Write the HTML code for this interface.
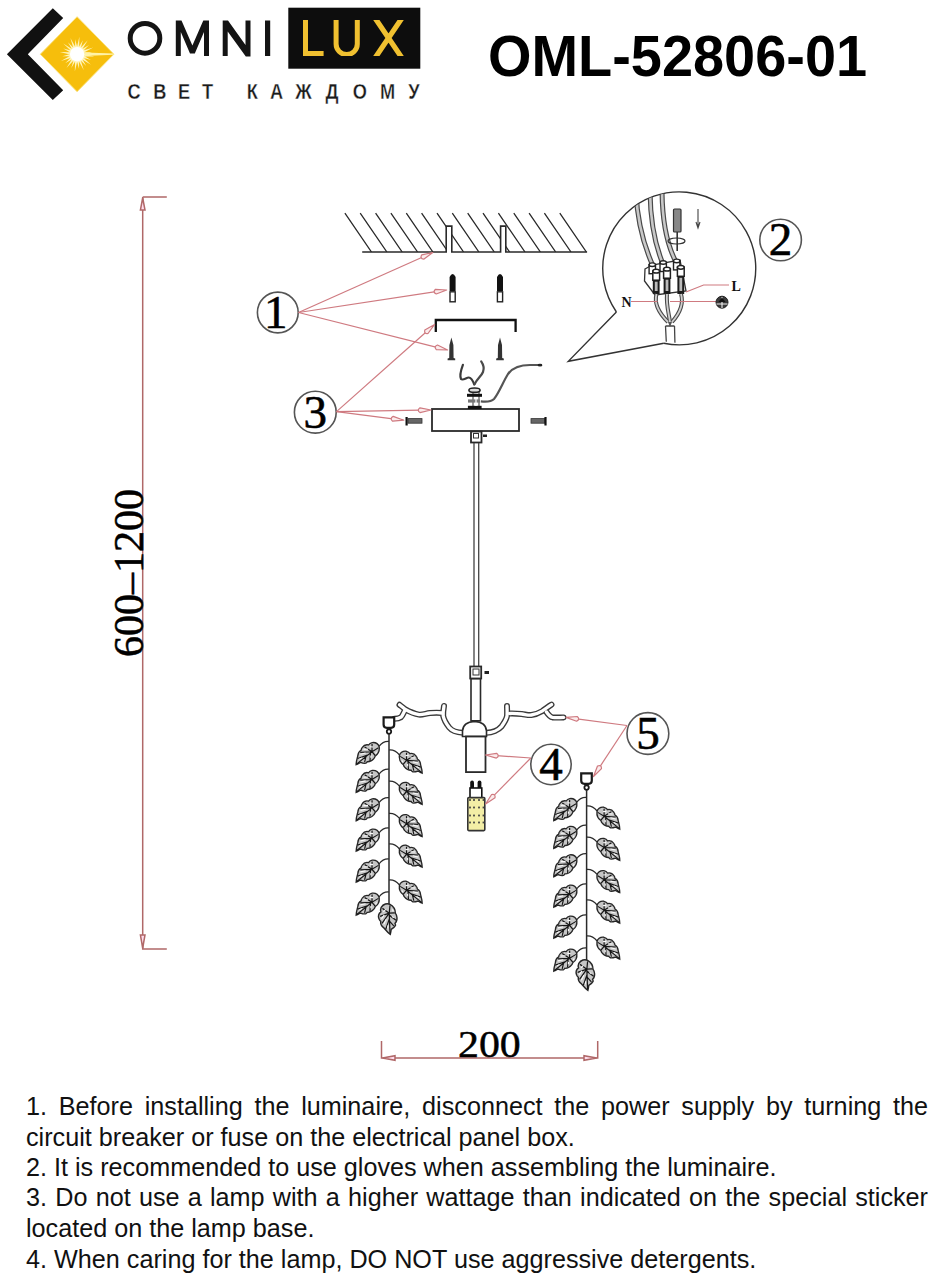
<!DOCTYPE html>
<html><head><meta charset="utf-8">
<style>
html,body{margin:0;padding:0;background:#fff;}
body{width:936px;height:1280px;position:relative;overflow:hidden;font-family:"Liberation Sans",sans-serif;}
#title{position:absolute;left:488px;top:22px;font-size:58px;font-weight:bold;color:#000;white-space:nowrap;transform:scaleX(0.964);transform-origin:0 0;}
.ln{position:absolute;left:26px;width:902px;font-size:25.2px;line-height:30px;color:#111;white-space:nowrap;}
.j{text-align:justify;text-align-last:justify;white-space:normal;}
svg{position:absolute;left:0;top:0;}
</style></head>
<body>
<svg width="936" height="1280" viewBox="0 0 936 1280">
<defs><g id="leaf">
<path d="M0,0 C-3,-1.5 -7,-0.5 -9.3,3 C-10.2,5 -10,6.5 -9.6,7.5 C-11.8,9 -12.6,12 -11.6,14.5 C-11.2,15.8 -10.5,16.5 -9.8,17 C-10.2,19.5 -8.5,22 -6.8,23.2 C-5,25 -3,28 0.3,30 C0.8,28 1,26.5 1.3,25 C3,24 5,22.5 5.8,21 C5.9,20 5.6,19.5 5.3,19 C7.2,17 7.8,14 7,11.5 C6.7,10.3 6.2,9.6 5.7,9 C5.7,6 4,2 0,0 Z" fill="#c6c6c6" stroke="#262626" stroke-width="1.5"/>
<path d="M0,1 L-0.8,8.8 L0,29 M-0.8,8.8 L-8,4 M-0.8,8.8 L-10.5,12 M-0.8,8.8 L-8.5,19 M-0.5,14 L-4.5,25 M-0.8,8.8 L5,8.5 M-0.5,11 L6.3,16 M-0.3,17 L4,21.5" stroke="#161616" stroke-width="1.3" fill="none"/>
<path d="M-4.5,5 L-7,7.5 M-6,10.5 L-9,14.5 M-4,15 L-6.5,20 M2,12 L4,13.5 M-2,21 L-2.5,24 M2.5,5 L3.5,7" stroke="#fafafa" stroke-width="1.2" fill="none"/>
</g></defs>
<polygon points="52.8,8.3 63.2,18 27.8,54.2 63.2,90.3 52.8,100 6.9,54.2" fill="#111"/>
<polygon points="77.1,16.7 113.9,54.2 77.1,91.7 40.3,54.2" fill="#F6BE0C" stroke="#fbe27a" stroke-width="0.9"/>
<path d="M83.08,53.73 L94.45,56.48 L82.75,56.21Z M83.00,55.29 L90.96,59.94 L82.04,57.60Z M82.52,56.78 L90.98,64.85 L80.99,58.76Z M81.66,58.09 L86.23,66.10 L79.68,59.62Z M80.50,59.14 L83.80,70.37 L78.19,60.10Z M79.11,59.85 L79.06,69.07 L76.63,60.18Z M77.57,60.18 L74.82,71.55 L75.09,59.85Z M76.01,60.10 L71.36,68.06 L73.70,59.14Z M74.52,59.62 L66.45,68.08 L72.54,58.09Z M73.21,58.76 L65.20,63.33 L71.68,56.78Z M72.16,57.60 L60.93,60.90 L71.20,55.29Z M71.45,56.21 L62.23,56.16 L71.12,53.73Z M71.12,54.67 L59.75,51.92 L71.45,52.19Z M71.20,53.11 L63.24,48.46 L72.16,50.80Z M71.68,51.62 L63.22,43.55 L73.21,49.64Z M72.54,50.31 L67.97,42.30 L74.52,48.78Z M73.70,49.26 L70.40,38.03 L76.01,48.30Z M75.09,48.55 L75.14,39.33 L77.57,48.22Z M76.63,48.22 L79.38,36.85 L79.11,48.55Z M78.19,48.30 L82.84,40.34 L80.50,49.26Z M79.68,48.78 L87.75,40.32 L81.66,50.31Z M80.99,49.64 L89.00,45.07 L82.52,51.62Z M82.04,50.80 L93.27,47.50 L83.00,53.11Z M82.75,52.19 L91.97,52.24 L83.08,54.67Z" fill="#fff4b8"/>
<path d="M78,52.2 L113.5,53.6 L113.5,54.8 L78,56.2 Z" fill="#fff3a8"/>
<circle cx="77.1" cy="54.2" r="7.2" fill="#fff"/>
<g fill="#141414"><path d="M175.8,56 L175.8,20.5 L181.5,20.5 L192.4,45.5 L203.3,20.5 L209,20.5 L209,56 L204,56 L204,32 L194.8,53.5 L190,53.5 L180.8,32 L180.8,56 Z"/><path d="M222.7,56 L222.7,20.5 L228,20.5 L245.5,45 L245.5,20.5 L250.5,20.5 L250.5,56.5 L245.8,56.5 L227.7,31.5 L227.7,56 Z"/><rect x="265" y="20.5" width="5.2" height="35.5"/></g>
<ellipse cx="145" cy="38.3" rx="14.8" ry="14.9" fill="none" stroke="#141414" stroke-width="5"/>
<rect x="288.3" y="7.7" width="132" height="61" fill="#0d0d0d"/>
<clipPath id="luxclip"><rect x="290" y="20" width="125" height="36"/></clipPath>
<g fill="none" stroke="#F0C030" stroke-width="5" clip-path="url(#luxclip)"><path d="M305.5,18 L305.5,53.4 L323.6,53.4"/><path d="M336.1,18 L336.1,44 A10.6,10.6 0 0 0 357.3,44 L357.3,18"/><path d="M375,18 L402,58 M402,18 L375,58" stroke-width="5.2"/></g>
<text transform="translate(134.2,98.7) scale(0.86,1)" text-anchor="middle" font-family="Liberation Sans" font-weight="bold" font-size="21.2" fill="#1a1a1a" stroke="#fff" stroke-width="0.35">С</text>
<text transform="translate(159.8,98.7) scale(0.86,1)" text-anchor="middle" font-family="Liberation Sans" font-weight="bold" font-size="21.2" fill="#1a1a1a" stroke="#fff" stroke-width="0.35">В</text>
<text transform="translate(184,98.7) scale(0.86,1)" text-anchor="middle" font-family="Liberation Sans" font-weight="bold" font-size="21.2" fill="#1a1a1a" stroke="#fff" stroke-width="0.35">Е</text>
<text transform="translate(207.6,98.7) scale(0.86,1)" text-anchor="middle" font-family="Liberation Sans" font-weight="bold" font-size="21.2" fill="#1a1a1a" stroke="#fff" stroke-width="0.35">Т</text>
<text transform="translate(252.4,98.7) scale(0.86,1)" text-anchor="middle" font-family="Liberation Sans" font-weight="bold" font-size="21.2" fill="#1a1a1a" stroke="#fff" stroke-width="0.35">К</text>
<text transform="translate(276.5,98.7) scale(0.86,1)" text-anchor="middle" font-family="Liberation Sans" font-weight="bold" font-size="21.2" fill="#1a1a1a" stroke="#fff" stroke-width="0.35">А</text>
<text transform="translate(303.6,98.7) scale(0.86,1)" text-anchor="middle" font-family="Liberation Sans" font-weight="bold" font-size="21.2" fill="#1a1a1a" stroke="#fff" stroke-width="0.35">Ж</text>
<text transform="translate(332,98.7) scale(0.86,1)" text-anchor="middle" font-family="Liberation Sans" font-weight="bold" font-size="21.2" fill="#1a1a1a" stroke="#fff" stroke-width="0.35">Д</text>
<text transform="translate(359.8,98.7) scale(0.86,1)" text-anchor="middle" font-family="Liberation Sans" font-weight="bold" font-size="21.2" fill="#1a1a1a" stroke="#fff" stroke-width="0.35">О</text>
<text transform="translate(387.5,98.7) scale(0.86,1)" text-anchor="middle" font-family="Liberation Sans" font-weight="bold" font-size="21.2" fill="#1a1a1a" stroke="#fff" stroke-width="0.35">М</text>
<text transform="translate(413.8,98.7) scale(0.86,1)" text-anchor="middle" font-family="Liberation Sans" font-weight="bold" font-size="21.2" fill="#1a1a1a" stroke="#fff" stroke-width="0.35">У</text>
<g stroke="#b06868" stroke-width="1.5" fill="none"><path d="M142.7,197 L166.8,197 M142.7,197 L142.7,949 L166.8,949"/><path d="M142.7,198 L145,210 L140.4,210 Z" fill="#fde"/><path d="M142.7,948 L145,935 L140.4,935 Z" fill="#fde"/><path d="M381.5,1041 L381.5,1058 L597.7,1058 L597.7,1041"/><path d="M382.5,1058 L395,1055.7 L395,1060.3 Z" fill="#fde"/><path d="M596.7,1058 L584,1055.7 L584,1060.3 Z" fill="#fde"/></g>
<text transform="translate(143,657) rotate(-90) scale(1,1)" font-family="Liberation Serif" font-size="42" fill="#000" stroke="#000" stroke-width="0.5">600–1200</text>
<text transform="translate(458,1057.4) scale(1.1,1)" font-family="Liberation Serif" font-size="38" fill="#000" stroke="#000" stroke-width="0.5">200</text>
<clipPath id="ceilclip"><path d="M330,200 L600,200 L600,252 L506,252 L506,226 L500.6,226 L500.6,252 L451.8,252 L451.8,226 L446.2,226 L446.2,252 L330,252 Z"/></clipPath>
<path d="M344.9,213.2 L371.5,252 M360.2,213.2 L386.9,252 M375.6,213.2 L402.2,252 M390.9,213.2 L417.6,252 M406.3,213.2 L432.9,252 M421.6,213.2 L448.2,252 M437.0,213.2 L463.6,252 M452.3,213.2 L478.9,252 M467.7,213.2 L494.3,252 M483.0,213.2 L509.6,252 M498.4,213.2 L525.0,252 M513.8,213.2 L540.4,252 M529.1,213.2 L555.7,252 M544.4,213.2 L571.0,252 M559.8,213.2 L586.4,252" stroke="#2a2a2a" stroke-width="1.3" clip-path="url(#ceilclip)"/>
<path d="M362.2,252 L446.2,252 L446.2,226.1 L451.8,226.1 L451.8,252 L500.6,252 L500.6,226.1 L505.8,226.1 L505.8,252 L587.1,252" fill="none" stroke="#2a2a2a" stroke-width="1.6"/>
<path d="M449.6,291 L449.6,277 Q452.6,271 455.6,277 L455.6,291 Z" fill="#111"/>
<rect x="450.0" y="291.8" width="5.2" height="10" fill="#fff" stroke="#222" stroke-width="1.4"/>
<path d="M497,291 L497,277 Q500,271 503,277 L503,291 Z" fill="#111"/>
<rect x="497.4" y="291.8" width="5.2" height="10" fill="#fff" stroke="#222" stroke-width="1.4"/>
<path d="M435.8,332 L435.8,320 L515.6,320 L515.6,332" fill="none" stroke="#111" stroke-width="2.3"/>
<path d="M451.4,337.5 L453.4,345 L453.59999999999997,358 L455.2,358.5 L455.2,360.3 L447.59999999999997,360.3 L447.59999999999997,358.5 L449.2,358 L449.4,345 Z" fill="#333"/>
<path d="M500,337.5 L502,345 L502.2,358 L503.8,358.5 L503.8,360.3 L496.2,360.3 L496.2,358.5 L497.8,358 L498,345 Z" fill="#333"/>
<rect x="432" y="409" width="87" height="22" fill="#fff" stroke="#2a2a2a" stroke-width="1.8"/>
<rect x="473" y="390" width="6" height="17" fill="#fff" stroke="#333" stroke-width="1"/>
<rect x="467.9" y="405.8" width="13.7" height="3.2" fill="#111"/>
<rect x="467" y="393.8" width="15" height="3" fill="#111"/>
<rect x="468" y="399.4" width="12" height="3.2" fill="#777"/><line x1="476" y1="397" x2="476" y2="406" stroke="#fff" stroke-width="1.2"/>
<ellipse cx="474.5" cy="390.2" rx="5.6" ry="2.2" fill="#ddd" stroke="#222" stroke-width="1.6"/>
<path d="M462.9,364.9 C461,370 459.5,376 461,379 C463,381 467,377 469,377.5 C471.5,378 473,381 474.3,384.5" fill="none" stroke="#3a3a3a" stroke-width="2.2" stroke-linecap="round"/>
<path d="M481.2,361.4 C483,364 484.5,368 483,372 C481.5,376 477,379 474.7,384" fill="none" stroke="#4a4a4a" stroke-width="2.2" stroke-linecap="round"/>
<path d="M480.8,401.4 C486,402 491,402 494,399 C499,393 503,382 508,374 C513,367 520,365 530,365 L539.5,365" fill="none" stroke="#555" stroke-width="2.2"/>
<ellipse cx="540" cy="365.2" rx="2.4" ry="1.4" fill="#222"/>
<rect x="408" y="418.6" width="14" height="4.6" fill="#666" stroke="#333" stroke-width="0.8"/><path d="M406.6,417 L406.6,425.5" stroke="#111" stroke-width="2.2"/>
<rect x="531" y="418.6" width="14" height="4.6" fill="#666" stroke="#333" stroke-width="0.8"/><path d="M545.5,417 L545.5,425.5" stroke="#111" stroke-width="2.2"/>
<rect x="471" y="431.5" width="10.5" height="11" fill="#fff" stroke="#2a2a2a" stroke-width="1.8"/>
<rect x="473.5" y="433.5" width="5" height="4.5" fill="#fff" stroke="#333" stroke-width="1"/>
<rect x="483" y="434.5" width="4" height="2.5" fill="#222"/>
<path d="M474,443 L474,666 M478.7,443 L478.7,666" stroke="#444" stroke-width="1.3"/>
<rect x="470.2" y="666.5" width="11" height="12" fill="#fff" stroke="#2a2a2a" stroke-width="1.8"/>
<rect x="473" y="669" width="6" height="6" fill="#fff" stroke="#333" stroke-width="1"/>
<rect x="484.5" y="671" width="4.5" height="3" fill="#222"/>
<rect x="471" y="678.8" width="9.5" height="42" fill="#fff" stroke="#2a2a2a" stroke-width="1.6"/>
<path d="M463,732.8 C459,732.6 452,731 449.2,727.5 C446.5,724 444,720 443.2,716 C443,712 443.5,709 444,706 M442,713 C438,712.4 434,712.6 430,713 C425,713.8 422,715 419,714.6 C414,713.8 410,712 405,709.2 C403,707.5 401,706 399.5,704.8 M405,710.2 C403.5,713 402.5,716 401,717.2 C399,718.6 397,718.8 394.5,718.8" fill="none" stroke="#3a3a3a" stroke-width="6" stroke-linecap="round" stroke-linejoin="round"/>
<path d="M486.5,732.8 C492,732.6 498.5,730 501.5,726.5 C504,723 506.5,719 507,716 C507.3,712 507,709 507,706 M510,713.5 C514,713.4 518,713.6 521.7,714 C526,714.6 529,715.4 531.3,715 C536,714.4 539,713 542,711.2 C546,708.5 549,706 551.5,704.6 M546.5,712 C548.5,715 550,717 552.5,717.4 C556,717.8 560,717.6 563.5,717.4" fill="none" stroke="#3a3a3a" stroke-width="6" stroke-linecap="round" stroke-linejoin="round"/>
<path d="M463,732.8 C459,732.6 452,731 449.2,727.5 C446.5,724 444,720 443.2,716 C443,712 443.5,709 444,706 M442,713 C438,712.4 434,712.6 430,713 C425,713.8 422,715 419,714.6 C414,713.8 410,712 405,709.2 C403,707.5 401,706 399.5,704.8 M405,710.2 C403.5,713 402.5,716 401,717.2 C399,718.6 397,718.8 394.5,718.8" fill="none" stroke="#fff" stroke-width="3.3" stroke-linecap="round" stroke-linejoin="round"/>
<path d="M486.5,732.8 C492,732.6 498.5,730 501.5,726.5 C504,723 506.5,719 507,716 C507.3,712 507,709 507,706 M510,713.5 C514,713.4 518,713.6 521.7,714 C526,714.6 529,715.4 531.3,715 C536,714.4 539,713 542,711.2 C546,708.5 549,706 551.5,704.6 M546.5,712 C548.5,715 550,717 552.5,717.4 C556,717.8 560,717.6 563.5,717.4" fill="none" stroke="#fff" stroke-width="3.3" stroke-linecap="round" stroke-linejoin="round"/>
<path d="M462.5,736.5 L462.5,731 Q463,722 474.5,721.5 Q486,722 486.5,731 L486.5,736.5 Z" fill="#fff" stroke="#2a2a2a" stroke-width="1.6"/>
<rect x="466" y="736.5" width="19.5" height="35.6" fill="#fff" stroke="#2a2a2a" stroke-width="1.8"/>
<rect x="470.2" y="780.6" width="3.8" height="9" rx="1.9" fill="#111"/><rect x="477.6" y="780.6" width="3.8" height="9" rx="1.9" fill="#111"/>
<rect x="470" y="788" width="11.8" height="10" fill="#fff" stroke="#111" stroke-width="1.6"/>
<rect x="467.8" y="797.6" width="17" height="33" rx="1" fill="#f3eea6" stroke="#333" stroke-width="1.6"/>
<rect x="469.1" y="799.1" width="1.8" height="1.8" fill="#444"/><rect x="473.1" y="799.1" width="1.8" height="1.8" fill="#444"/><rect x="478.1" y="799.1" width="1.8" height="1.8" fill="#444"/><rect x="482.6" y="799.1" width="1.8" height="1.8" fill="#444"/><rect x="469.1" y="806.6" width="1.8" height="1.8" fill="#444"/><rect x="473.1" y="806.6" width="1.8" height="1.8" fill="#444"/><rect x="478.1" y="806.6" width="1.8" height="1.8" fill="#444"/><rect x="482.6" y="806.6" width="1.8" height="1.8" fill="#444"/><rect x="469.1" y="814.6" width="1.8" height="1.8" fill="#444"/><rect x="473.1" y="814.6" width="1.8" height="1.8" fill="#444"/><rect x="478.1" y="814.6" width="1.8" height="1.8" fill="#444"/><rect x="482.6" y="814.6" width="1.8" height="1.8" fill="#444"/><rect x="469.1" y="821.6" width="1.8" height="1.8" fill="#444"/><rect x="473.1" y="821.6" width="1.8" height="1.8" fill="#444"/><rect x="478.1" y="821.6" width="1.8" height="1.8" fill="#444"/><rect x="482.6" y="821.6" width="1.8" height="1.8" fill="#444"/>
<path d="M383.6,717.3 L394.2,717.3 L394.2,724.5 Q394.2,727.8 391,727.8 L386.8,727.8 Q383.6,727.8 383.6,724.5 Z" fill="#fff" stroke="#1a1a1a" stroke-width="2.2"/>
<circle cx="389" cy="731.6" r="2.2" fill="#fff" stroke="#1a1a1a" stroke-width="1.8"/>
<line x1="389" y1="734" x2="389" y2="904" stroke="#2a2a2a" stroke-width="1.5"/>
<path d="M389,741.4 Q383,740.9 379,746.4" fill="none" stroke="#2a2a2a" stroke-width="1.2"/>
<use href="#leaf" transform="translate(379.2,747.2) rotate(53.4) scale(0.847,0.963)"/>
<path d="M389,769.2 Q383,768.7 379,774.2" fill="none" stroke="#2a2a2a" stroke-width="1.2"/>
<use href="#leaf" transform="translate(379.2,775.0) rotate(53.4) scale(0.847,0.963)"/>
<path d="M389,797.6 Q383,797.1 379,802.6" fill="none" stroke="#2a2a2a" stroke-width="1.2"/>
<use href="#leaf" transform="translate(379.2,803.4) rotate(53.4) scale(0.847,0.963)"/>
<path d="M389,828 Q383,827.5 379,833" fill="none" stroke="#2a2a2a" stroke-width="1.2"/>
<use href="#leaf" transform="translate(379.2,833.8) rotate(53.4) scale(0.847,0.963)"/>
<path d="M389,859 Q383,858.5 379,864" fill="none" stroke="#2a2a2a" stroke-width="1.2"/>
<use href="#leaf" transform="translate(379.2,864.8) rotate(53.4) scale(0.847,0.963)"/>
<path d="M389,892 Q383,891.5 379,897" fill="none" stroke="#2a2a2a" stroke-width="1.2"/>
<use href="#leaf" transform="translate(379.2,897.8) rotate(53.4) scale(0.847,0.963)"/>
<path d="M389,750 Q395,749.5 399.5,755" fill="none" stroke="#2a2a2a" stroke-width="1.2"/>
<use href="#leaf" transform="translate(399.4,755.8) rotate(-53.1) scale(-0.840,0.955)"/>
<path d="M389,781.2 Q395,780.7 399.5,786.2" fill="none" stroke="#2a2a2a" stroke-width="1.2"/>
<use href="#leaf" transform="translate(399.4,787.0) rotate(-53.1) scale(-0.840,0.955)"/>
<path d="M389,813.4 Q395,812.9 399.5,818.4" fill="none" stroke="#2a2a2a" stroke-width="1.2"/>
<use href="#leaf" transform="translate(399.4,819.2) rotate(-53.1) scale(-0.840,0.955)"/>
<path d="M389,844 Q395,843.5 399.5,849" fill="none" stroke="#2a2a2a" stroke-width="1.2"/>
<use href="#leaf" transform="translate(399.4,849.8) rotate(-53.1) scale(-0.840,0.955)"/>
<path d="M389,880 Q395,879.5 399.5,885" fill="none" stroke="#2a2a2a" stroke-width="1.2"/>
<use href="#leaf" transform="translate(399.4,885.8) rotate(-53.1) scale(-0.840,0.955)"/>
<use href="#leaf" transform="translate(390.0,904.4) rotate(0.0) scale(0.947,0.997)"/>
<path d="M581.2,773.3 L591.8,773.3 L591.8,780.5 Q591.8,783.8 588.6,783.8 L584.4,783.8 Q581.2,783.8 581.2,780.5 Z" fill="#fff" stroke="#1a1a1a" stroke-width="2.2"/>
<circle cx="586.6" cy="787.6" r="2.2" fill="#fff" stroke="#1a1a1a" stroke-width="1.8"/>
<line x1="586.6" y1="790" x2="586.6" y2="960" stroke="#2a2a2a" stroke-width="1.5"/>
<path d="M586.6,797.4 Q580.6,796.9 576.6,802.4" fill="none" stroke="#2a2a2a" stroke-width="1.2"/>
<use href="#leaf" transform="translate(576.8,803.2) rotate(53.4) scale(0.847,0.963)"/>
<path d="M586.6,825.2 Q580.6,824.7 576.6,830.2" fill="none" stroke="#2a2a2a" stroke-width="1.2"/>
<use href="#leaf" transform="translate(576.8,831.0) rotate(53.4) scale(0.847,0.963)"/>
<path d="M586.6,853.6 Q580.6,853.1 576.6,858.6" fill="none" stroke="#2a2a2a" stroke-width="1.2"/>
<use href="#leaf" transform="translate(576.8,859.4) rotate(53.4) scale(0.847,0.963)"/>
<path d="M586.6,884 Q580.6,883.5 576.6,889" fill="none" stroke="#2a2a2a" stroke-width="1.2"/>
<use href="#leaf" transform="translate(576.8,889.8) rotate(53.4) scale(0.847,0.963)"/>
<path d="M586.6,915 Q580.6,914.5 576.6,920" fill="none" stroke="#2a2a2a" stroke-width="1.2"/>
<use href="#leaf" transform="translate(576.8,920.8) rotate(53.4) scale(0.847,0.963)"/>
<path d="M586.6,948 Q580.6,947.5 576.6,953" fill="none" stroke="#2a2a2a" stroke-width="1.2"/>
<use href="#leaf" transform="translate(576.8,953.8) rotate(53.4) scale(0.847,0.963)"/>
<path d="M586.6,806 Q592.6,805.5 597.1,811" fill="none" stroke="#2a2a2a" stroke-width="1.2"/>
<use href="#leaf" transform="translate(597.0,811.8) rotate(-53.1) scale(-0.840,0.955)"/>
<path d="M586.6,837.2 Q592.6,836.7 597.1,842.2" fill="none" stroke="#2a2a2a" stroke-width="1.2"/>
<use href="#leaf" transform="translate(597.0,843.0) rotate(-53.1) scale(-0.840,0.955)"/>
<path d="M586.6,869.4 Q592.6,868.9 597.1,874.4" fill="none" stroke="#2a2a2a" stroke-width="1.2"/>
<use href="#leaf" transform="translate(597.0,875.2) rotate(-53.1) scale(-0.840,0.955)"/>
<path d="M586.6,900 Q592.6,899.5 597.1,905" fill="none" stroke="#2a2a2a" stroke-width="1.2"/>
<use href="#leaf" transform="translate(597.0,905.8) rotate(-53.1) scale(-0.840,0.955)"/>
<path d="M586.6,936 Q592.6,935.5 597.1,941" fill="none" stroke="#2a2a2a" stroke-width="1.2"/>
<use href="#leaf" transform="translate(597.0,941.8) rotate(-53.1) scale(-0.840,0.955)"/>
<use href="#leaf" transform="translate(587.6,960.4) rotate(0.0) scale(0.947,0.997)"/>
<path d="M616.4,312 L568.3,361.3 L663.8,343.3" fill="none" stroke="#333" stroke-width="1.4"/>
<path d="M663.8,343.3 A76.5,76.5 0 1 0 616.4,312" fill="none" stroke="#333" stroke-width="1.4"/>
<clipPath id="bub"><circle cx="679.5" cy="267.5" r="75.5"/></clipPath>
<g clip-path="url(#bub)">
<path d="M636,190 C637,225 645,248 653,266" fill="none" stroke="#4a4a4a" stroke-width="5"/>
<path d="M650,188 C650,222 655,245 663,264" fill="none" stroke="#4a4a4a" stroke-width="5"/>
<path d="M662,188 C662,220 667,245 676,262" fill="none" stroke="#4a4a4a" stroke-width="5"/>
<path d="M636,190 C637,225 645,248 653,266" fill="none" stroke="#c8c8c8" stroke-width="2.6"/>
<path d="M650,188 C650,222 655,245 663,264" fill="none" stroke="#c8c8c8" stroke-width="2.6"/>
<path d="M662,188 C662,220 667,245 676,262" fill="none" stroke="#c8c8c8" stroke-width="2.6"/>
</g>
<path d="M645,269 L652,265 L680,260 L686,291 L655,295 L644.5,281 Z" fill="#fff" stroke="#333" stroke-width="1.3"/>
<rect x="649.0999999999999" y="264.7" width="6.4" height="9" fill="#fff" stroke="#222" stroke-width="1.4"/><ellipse cx="652.3" cy="264.7" rx="3.2" ry="1.8" fill="#fff" stroke="#222" stroke-width="1.4"/>
<rect x="660.0" y="262.5" width="6.4" height="9" fill="#fff" stroke="#222" stroke-width="1.4"/><ellipse cx="663.2" cy="262.5" rx="3.2" ry="1.8" fill="#fff" stroke="#222" stroke-width="1.4"/>
<rect x="673.5" y="260.9" width="6.4" height="9" fill="#fff" stroke="#222" stroke-width="1.4"/><ellipse cx="676.7" cy="260.9" rx="3.2" ry="1.8" fill="#fff" stroke="#222" stroke-width="1.4"/>
<rect x="652.8000000000001" y="271.2" width="6.8" height="9" fill="#fff" stroke="#222" stroke-width="1.5"/><ellipse cx="656.2" cy="271.2" rx="3.4" ry="1.9" fill="#fff" stroke="#222" stroke-width="1.5"/>
<rect x="652.8000000000001" y="280.2" width="6.8" height="13.800000000000011" fill="#1c1c1c"/><rect x="654.8000000000001" y="281.7" width="2.8" height="9.300000000000011" fill="#bbb"/>
<rect x="663.6" y="269.2" width="6.8" height="9" fill="#fff" stroke="#222" stroke-width="1.5"/><ellipse cx="667" cy="269.2" rx="3.4" ry="1.9" fill="#fff" stroke="#222" stroke-width="1.5"/>
<rect x="663.6" y="278.2" width="6.8" height="15.800000000000011" fill="#1c1c1c"/><rect x="665.6" y="279.7" width="2.8" height="11.300000000000011" fill="#bbb"/>
<rect x="677.4" y="267.3" width="6.8" height="9" fill="#fff" stroke="#222" stroke-width="1.5"/><ellipse cx="680.8" cy="267.3" rx="3.4" ry="1.9" fill="#fff" stroke="#222" stroke-width="1.5"/>
<rect x="677.4" y="276.3" width="6.8" height="17.69999999999999" fill="#1c1c1c"/><rect x="679.4" y="277.8" width="2.8" height="13.199999999999989" fill="#bbb"/>
<path d="M656.5,294 C654,303 658,312 668,322" fill="none" stroke="#4a4a4a" stroke-width="4"/>
<path d="M667,294 C666,305 669,314 670,322" fill="none" stroke="#4a4a4a" stroke-width="4"/>
<path d="M681,294 C684,304 680,313 672,322" fill="none" stroke="#4a4a4a" stroke-width="4"/>
<path d="M656.5,294 C654,303 658,312 668,322" fill="none" stroke="#d0d0d0" stroke-width="1.8"/>
<path d="M667,294 C666,305 669,314 670,322" fill="none" stroke="#d0d0d0" stroke-width="1.8"/>
<path d="M681,294 C684,304 680,313 672,322" fill="none" stroke="#d0d0d0" stroke-width="1.8"/>
<path d="M668,322 L672,322 L670,327 Z" fill="#555"/>
<g clip-path="url(#bub)"><path d="M665.5,326 L666.5,346 M674.5,326 L675,346 M665.5,326 L674.5,326" stroke="#444" stroke-width="1.3" fill="none"/></g>
<rect x="673.5" y="209" width="7.5" height="23" rx="1" fill="#888" stroke="#333" stroke-width="1.2"/>
<line x1="677.2" y1="232" x2="677.2" y2="251" stroke="#333" stroke-width="1.6"/>
<ellipse cx="676.5" cy="241" rx="8.5" ry="3" fill="none" stroke="#333" stroke-width="1.2"/>
<path d="M698,209 L698,227 M696,222 L698,228 L700,222" fill="none" stroke="#444" stroke-width="1.1"/>
<path d="M631,301.5 L657.5,301.5 M670,301.5 L716,301.5 M686,292 L703.6,285 L729,285" fill="none" stroke="#cf7a80" stroke-width="1.2"/>
<text x="621.5" y="306.8" font-family="Liberation Serif" font-weight="bold" font-size="14" fill="#111">N</text>
<text x="731.5" y="291" font-family="Liberation Serif" font-weight="bold" font-size="14" fill="#111">L</text>
<circle cx="722" cy="302.2" r="6" fill="#3a3a3a" stroke="#222" stroke-width="1"/><path d="M716.5,304 L727.5,304 M722,297 L722,308" stroke="#f2f2f2" stroke-width="1.1"/><path d="M718.5,302 L725.5,302 L722,297.5 Z" fill="#111"/>
<circle cx="277.8" cy="312.5" r="20.4" fill="none" stroke="#555" stroke-width="1.6"/><text x="0" y="0" transform="translate(275.8,327.8)" text-anchor="middle" font-family="Liberation Serif" font-size="47" fill="#000" stroke="#000" stroke-width="0.6">1</text>
<circle cx="780.6" cy="240" r="20.8" fill="none" stroke="#555" stroke-width="1.6"/><text x="0" y="0" transform="translate(780.6,255.3)" text-anchor="middle" font-family="Liberation Serif" font-size="47" fill="#000" stroke="#000" stroke-width="0.6">2</text>
<circle cx="315.3" cy="412.2" r="20.9" fill="none" stroke="#555" stroke-width="1.6"/><text x="0" y="0" transform="translate(315.3,427.5)" text-anchor="middle" font-family="Liberation Serif" font-size="47" fill="#000" stroke="#000" stroke-width="0.6">3</text>
<circle cx="551" cy="764.5" r="20.2" fill="none" stroke="#555" stroke-width="1.6"/><text x="0" y="0" transform="translate(551,779.8)" text-anchor="middle" font-family="Liberation Serif" font-size="47" fill="#000" stroke="#000" stroke-width="0.6">4</text>
<circle cx="647.9" cy="733.5" r="20.9" fill="none" stroke="#555" stroke-width="1.6"/><text x="0" y="0" transform="translate(647.9,748.8)" text-anchor="middle" font-family="Liberation Serif" font-size="47" fill="#000" stroke="#000" stroke-width="0.6">5</text>
<line x1="298.5" y1="312.5" x2="422.8" y2="257.0" stroke="#cf7a80" stroke-width="1.2"/><path d="M432.8,252.5 L423.7,259.2 Q419.6,258.4 421.8,254.8 Z" fill="#fbecec" stroke="#cf7a80" stroke-width="1.2" stroke-linejoin="round"/>
<line x1="298.5" y1="312.5" x2="435.8" y2="291.7" stroke="#cf7a80" stroke-width="1.2"/><path d="M446.7,290.0 L436.2,294.0 Q432.4,292.2 435.5,289.3 Z" fill="#fbecec" stroke="#cf7a80" stroke-width="1.2" stroke-linejoin="round"/>
<line x1="298.5" y1="312.5" x2="436.9" y2="347.3" stroke="#cf7a80" stroke-width="1.2"/><path d="M447.6,350.0 L436.3,349.6 Q433.5,346.5 437.5,345.0 Z" fill="#fbecec" stroke="#cf7a80" stroke-width="1.2" stroke-linejoin="round"/>
<line x1="336.5" y1="411.6" x2="426.4" y2="331.7" stroke="#cf7a80" stroke-width="1.2"/><path d="M434.6,324.4 L428.0,333.5 Q423.8,334.0 424.8,329.9 Z" fill="#fbecec" stroke="#cf7a80" stroke-width="1.2" stroke-linejoin="round"/>
<line x1="336.5" y1="411.6" x2="420.0" y2="410.2" stroke="#cf7a80" stroke-width="1.2"/><path d="M431.0,410.0 L420.0,412.6 Q416.5,410.2 420.0,407.8 Z" fill="#fbecec" stroke="#cf7a80" stroke-width="1.2" stroke-linejoin="round"/>
<line x1="336.5" y1="411.6" x2="392.9" y2="418.8" stroke="#cf7a80" stroke-width="1.2"/><path d="M403.8,420.2 L392.6,421.2 Q389.4,418.4 393.2,416.4 Z" fill="#fbecec" stroke="#cf7a80" stroke-width="1.2" stroke-linejoin="round"/>
<line x1="530.8" y1="758.0" x2="496.5" y2="755.7" stroke="#cf7a80" stroke-width="1.2"/><path d="M485.5,755.0 L496.6,753.3 Q500.0,756.0 496.3,758.1 Z" fill="#fbecec" stroke="#cf7a80" stroke-width="1.2" stroke-linejoin="round"/>
<line x1="530.8" y1="758.0" x2="493.3" y2="796.2" stroke="#cf7a80" stroke-width="1.2"/><path d="M485.6,804.0 L491.6,794.5 Q495.8,793.7 495.0,797.8 Z" fill="#fbecec" stroke="#cf7a80" stroke-width="1.2" stroke-linejoin="round"/>
<line x1="627.0" y1="725.5" x2="576.9" y2="718.8" stroke="#cf7a80" stroke-width="1.2"/><path d="M566.0,717.4 L577.2,716.5 Q580.4,719.3 576.6,721.2 Z" fill="#fbecec" stroke="#cf7a80" stroke-width="1.2" stroke-linejoin="round"/>
<line x1="627.0" y1="725.5" x2="599.5" y2="767.3" stroke="#cf7a80" stroke-width="1.2"/><path d="M593.5,776.5 L597.5,766.0 Q601.5,764.4 601.5,768.6 Z" fill="#fbecec" stroke="#cf7a80" stroke-width="1.2" stroke-linejoin="round"/>
</svg>
<div id="title">OML-52806-01</div>
<div class="ln j" style="top:1090.5px">1. Before installing the luminaire, disconnect the power supply by turning the</div>
<div class="ln" style="top:1121.9px">circuit breaker or fuse on the electrical panel box.</div>
<div class="ln" style="top:1152.3px">2. It is recommended to use gloves when assembling the luminaire.</div>
<div class="ln j" style="top:1181.9px">3. Do not use a lamp with a higher wattage than indicated on the special sticker</div>
<div class="ln" style="top:1213.1px">located on the lamp base.</div>
<div class="ln" style="top:1243.5px">4. When caring for the lamp, DO NOT use aggressive detergents.</div>
</body></html>
